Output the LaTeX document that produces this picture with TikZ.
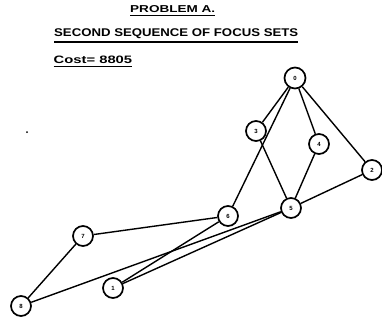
\documentclass[tikz,border=0pt]{standalone}
\usepackage{fontspec}
\setmainfont{Liberation Sans}
\begin{document}
\begin{tikzpicture}[x=1pt,y=-1pt,
  vtx/.style={circle,draw,line width=1.7pt,minimum size=20pt,inner sep=0pt,
    font=\fontsize{6}{6}\selectfont\bfseries},
  edge/.style={line width=1.4pt},
  ttl/.style={anchor=south west,inner sep=0pt,font=\bfseries},
  uline/.style={line width=1.3pt}]
\useasboundingbox[fill=white] (0,0) rectangle (382,322);
% titles
\node[ttl] (t1) at (130,12.8) {\resizebox{85pt}{7pt}{PROBLEM A.}};
\node[ttl] (t2) at (54,39) {\resizebox{244pt}{7.8pt}{SECOND SEQUENCE OF FOCUS SETS}};
\node[ttl] (t3) at (53.5,63.5) {\resizebox{78.5pt}{7.5pt}{Cost= 8805}};
\draw[uline] ([yshift=-2.9pt]t1.south west) -- ([yshift=-2.9pt]t1.south east);
\draw[uline] ([yshift=-3pt]t2.south west) -- ([yshift=-3pt]t2.south east);
\draw[uline] ([yshift=-3pt]t3.south west) -- ([yshift=-3pt]t3.south east);
% stray dot
\fill (27,132) circle (1pt);
% vertices
\node[vtx,minimum size=21pt] (n0) at (295,78) {0};
\node[vtx] (n3) at (256,131) {3};
\node[vtx] (n4) at (319,144) {4};
\node[vtx] (n2) at (372,170) {2};
\node[vtx] (n5) at (291,208) {5};
\node[vtx] (n6) at (228,216) {6};
\node[vtx] (n7) at (83,236) {7};
\node[vtx] (n1) at (113,288) {1};
\node[vtx] (n8) at (21,306) {8};
% edges
\draw[edge] (n0) -- (n3);
\draw[edge] (n0) -- (n6);
\draw[edge] (n0) -- (n4);
\draw[edge] (n0) -- (n2);
\draw[edge] (n3) -- (n5);
\draw[edge] (n4) -- (n5);
\draw[edge] (n2) -- (n5);
\draw[edge] (n8) -- (n5);
\draw[edge] (n1) -- (n5);
\draw[edge] (n1) -- (n6);
\draw[edge] (n7) -- (n6);
\draw[edge] (n7) -- (n8);
\end{tikzpicture}
\end{document}
